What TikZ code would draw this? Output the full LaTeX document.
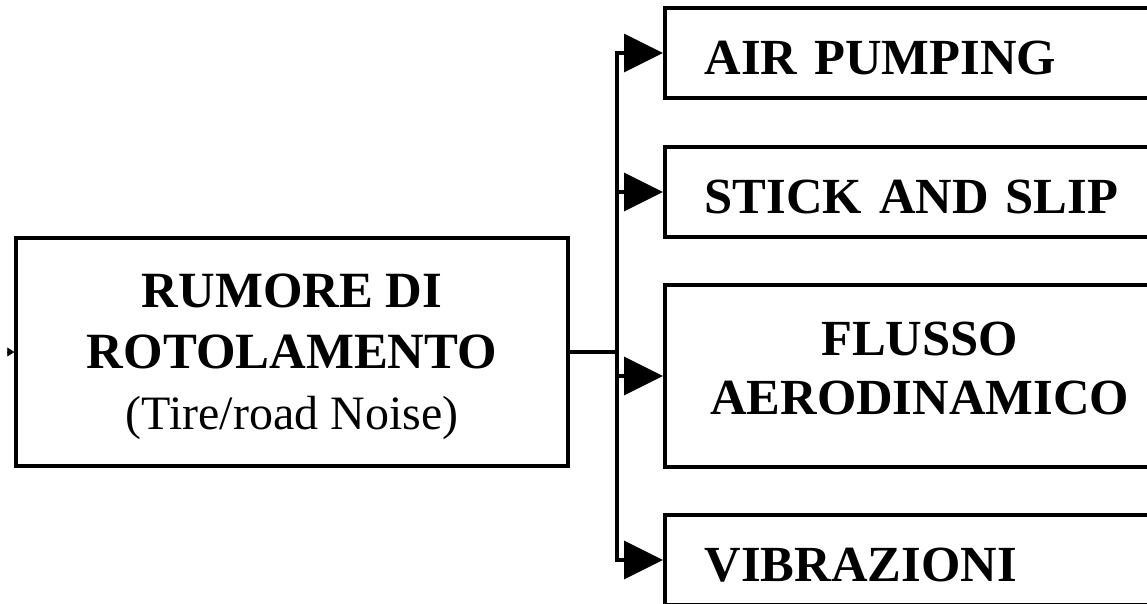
\documentclass[tikz,border=0pt]{standalone}
\usepackage{fontspec}
\setmainfont{Liberation Serif}
\usetikzlibrary{arrows.meta}
\tikzset{
  box/.style={draw, line width=0.07cm, minimum height=1.8cm, inner ysep=0pt},
  branch/.style={box, anchor=west, text width=8.6cm, inner xsep=0.8cm, align=left,
    font=\bfseries\fontsize{28.8}{33.6}\selectfont},
  oneline/.style={text height=0.85cm, text depth=0pt},
  feed/.style={line width=0.07cm, -{Triangle[length=0.78cm,width=0.76cm]}},
}

\begin{document}
\begin{tikzpicture}[x=0.02cm, y=-0.02cm, line join=miter]
  % window of the page, in pixels of the original figure
  \useasboundingbox (0,0) rectangle (1147,603);
  \clip (0,0) rectangle (1147,603);

  % main block
  \node[box, minimum width=11.04cm, minimum height=4.56cm, align=center, text depth=0pt,
    font=\fontsize{28.9}{34.7}\selectfont] (rumore) at (292,352)
    {\textbf{RUMORE DI}\\\textbf{ROTOLAMENTO}\\{\fontsize{27.3}{34.7}\selectfont(Tire/road Noise)}};

  % the four mechanisms
  \node[branch, oneline] (air) at (663,53) {AIR PUMPING};
  \node[branch, oneline] (stick) at (663,192) {STICK AND SLIP};
  \node[branch, minimum height=3.64cm, align=center, text depth=1.5cm] (flusso) at (663,376)
    {FLUSSO\\AERODINAMICO};
  \node[branch, oneline] (vibra) at (663,560) {VIBRAZIONI};

  \coordinate (split) at (617,352);
  \coordinate (input) at (8,352);

  % connectors
  \draw[line width=0.07cm] (rumore) -- (split);
  \foreach \n in {air,stick,flusso,vibra}
    \draw[feed] (split) |- (\n.west);
  \draw[-{Triangle[length=0.14cm,width=0.18cm]}] (input) -- (rumore.west);
\end{tikzpicture}
\end{document}
